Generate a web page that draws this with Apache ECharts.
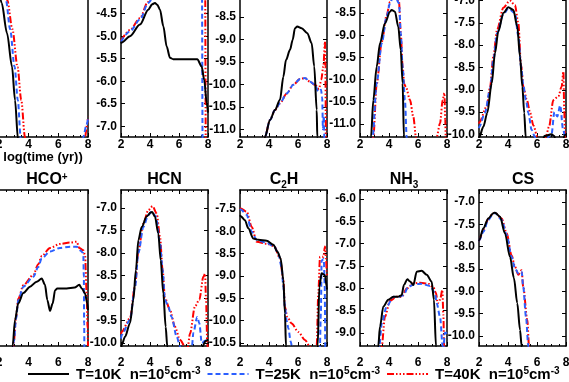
<!DOCTYPE html>
<html>
<head>
<meta charset="utf-8">
<script src="https://cdn.jsdelivr.net/npm/echarts@6/dist/echarts.min.js"></script>
<style>
html, body { margin: 0; padding: 0; background: #fff; }
#chart { width: 569px; height: 382px; }
</style>
</head>
<body>
<div id="chart"></div>
<script>
// log(time (yr)) axis, shared by every panel
var timeTicks = [2, 4, 6, 8];

// top row (species names cropped off), pairs are [log t, log abundance]
var p1T10 = [[2.0,-6.75],[2.18,-7.02],[2.54,-7.69],[2.88,-8.44],[3.08,-9.18],[3.28,-10.05],[3.4,-10.6]];
var p1T25 = [[2.2,-6.46],[2.47,-6.96],[2.75,-7.6],[3.05,-8.44],[3.27,-9.18],[3.46,-10.0],[3.55,-10.6],[7.6,-10.6],[7.68,-10.0],[7.9,-9.73],[8.0,-9.6]];
var p1T40 = [[2.3,-6.46],[2.56,-6.96],[2.9,-7.6],[3.25,-8.44],[3.5,-9.18],[3.75,-10.0],[3.85,-10.6],[7.7,-10.6],[7.8,-10.0],[7.95,-9.7],[8.0,-9.55]];

var p2T10 = [[2.0,-5.16],[2.05,-5.14],[2.62,-5.0],[3.31,-4.74],[3.88,-4.41],[4.15,-4.29],[4.34,-4.26],[4.5,-4.3],[4.69,-4.41],[4.92,-4.78],[5.15,-5.23],[5.38,-5.48],[5.6,-5.51],[7.26,-5.51],[7.56,-5.67],[7.74,-5.97],[7.91,-6.48],[8.0,-6.7]];
var p2T25 = [[2.0,-5.12],[2.62,-4.89],[3.31,-4.63],[3.88,-4.26],[4.11,-4.19],[4.5,-3.9],[5.0,-3.5],[7.4,-3.5],[7.58,-3.6],[7.63,-7.6],[8.0,-7.6]];
var p2T40 = [[2.0,-5.1],[2.62,-4.86],[3.31,-4.6],[3.85,-4.24],[4.1,-4.15],[4.5,-3.85],[5.0,-3.5],[7.5,-3.5],[7.8,-3.6],[7.85,-7.6],[8.0,-7.6]];

var p3T10 = [[3.6,-11.5],[3.72,-11.17],[4.07,-10.79],[4.41,-10.57],[4.76,-10.34],[4.99,-9.83],[5.17,-9.46],[5.45,-9.23],[5.63,-9.01],[5.79,-8.75],[5.95,-8.71],[6.25,-8.75],[6.64,-8.86],[6.94,-9.08],[7.12,-9.6],[7.29,-10.57],[7.33,-11.17],[7.36,-11.5]];
var p3T25 = [[3.6,-11.5],[3.72,-11.17],[4.07,-10.79],[4.41,-10.57],[4.76,-10.42],[5.22,-10.2],[5.68,-10.01],[6.14,-9.88],[6.48,-9.86],[6.83,-9.94],[7.17,-10.01],[7.4,-10.16],[7.59,-10.12],[7.67,-10.3],[7.72,-11.0],[7.78,-10.7],[7.83,-11.5]];
var p3T40 = [[3.6,-11.5],[3.72,-11.17],[4.07,-10.79],[4.41,-10.57],[4.76,-10.42],[5.22,-10.2],[5.68,-10.01],[6.14,-9.88],[6.48,-9.86],[6.83,-9.94],[7.17,-10.01],[7.45,-10.1],[7.6,-9.9],[7.75,-9.6],[7.86,-9.05],[7.89,-9.6],[7.92,-11.5]];

var p4T10 = [[2.7,-11.6],[2.76,-11.29],[2.92,-10.46],[3.15,-9.71],[3.38,-9.18],[3.72,-8.73],[4.07,-8.47],[4.18,-8.43],[4.41,-8.47],[4.64,-8.81],[4.81,-9.33],[4.94,-10.08],[5.03,-11.29],[5.06,-11.6]];
var p4T25 = [[2.8,-11.6],[2.87,-11.29],[3.15,-10.08],[3.5,-9.18],[3.84,-8.58],[4.07,-8.28],[4.35,-8.05],[4.69,-8.28],[4.81,-8.95],[4.94,-9.71],[5.1,-10.46],[5.22,-11.29],[5.26,-11.6]];
var p4T40 = [[2.85,-11.6],[2.92,-11.29],[3.15,-10.1],[3.5,-9.15],[3.84,-8.55],[4.07,-8.25],[4.35,-8.0],[4.69,-8.25],[4.81,-8.95],[4.94,-9.71],[5.05,-10.1],[5.17,-10.17],[5.45,-10.46],[5.68,-10.84],[5.86,-11.29],[5.9,-11.6],[7.25,-11.6],[7.29,-11.29],[7.52,-10.98],[7.7,-10.46],[7.82,-10.3],[7.88,-10.9],[7.92,-11.6]];

var p5T10 = [[2.0,-10.1],[2.02,-10.06],[2.3,-9.83],[2.57,-9.52],[2.88,-8.85],[3.1,-8.18],[3.33,-7.69],[3.68,-7.28],[4.02,-7.15],[4.37,-7.21],[4.64,-7.58],[4.83,-8.26],[4.99,-8.93],[5.12,-9.52],[5.22,-10.06],[5.3,-10.3],[6.3,-10.3],[6.5,-10.04],[7.0,-10.0],[7.2,-10.04],[7.35,-10.3],[7.7,-10.3],[7.9,-10.02],[8.0,-10.0]];
var p5T25 = [[2.0,-9.86],[2.02,-9.83],[2.41,-9.52],[2.76,-9.0],[2.99,-8.33],[3.25,-7.73],[3.68,-7.31],[4.02,-7.18],[4.48,-7.28],[4.71,-7.8],[4.9,-8.48],[5.07,-8.93],[5.24,-9.23],[5.4,-9.52],[5.63,-9.9],[5.86,-10.06],[6.0,-10.3],[6.6,-10.3],[6.8,-10.05],[7.0,-10.0],[7.2,-9.5],[7.4,-9.6],[7.6,-9.35],[7.8,-9.9],[7.95,-10.05],[8.0,-10.05]];
var p5T40 = [[2.0,-9.76],[2.02,-9.73],[2.53,-9.38],[2.76,-8.95],[2.99,-8.25],[3.25,-7.65],[3.68,-7.16],[4.13,-7.0],[4.48,-7.1],[4.71,-7.5],[4.9,-8.45],[5.07,-8.95],[5.3,-9.23],[5.53,-9.52],[5.75,-9.8],[6.03,-10.06],[6.1,-10.3],[6.55,-10.3],[6.6,-10.06],[6.83,-9.83],[7.13,-9.23],[7.47,-9.15],[7.7,-8.93],[7.82,-8.59],[7.88,-9.45],[7.93,-10.06],[7.96,-10.3]];

// bottom row
var hcoT10 = [[2.85,-11.3],[2.92,-11.0],[3.08,-10.42],[3.3,-10.05],[3.64,-9.82],[4.09,-9.68],[4.54,-9.57],[4.88,-9.5],[5.1,-9.64],[5.26,-9.98],[5.44,-10.22],[5.62,-10.05],[5.78,-9.76],[5.93,-9.72],[6.56,-9.72],[7.1,-9.7],[7.41,-9.64],[7.58,-9.72],[7.8,-9.83],[7.95,-10.05],[8.0,-10.2]];
var hcoT25 = [[2.9,-11.3],[3.0,-10.9],[3.15,-10.4],[3.3,-9.98],[3.64,-9.68],[4.31,-9.46],[4.65,-9.24],[4.88,-9.05],[5.44,-8.9],[6.11,-8.82],[6.79,-8.79],[7.24,-8.79],[7.46,-8.87],[7.68,-8.93],[7.72,-9.46],[7.74,-10.5],[7.76,-11.3]];
var hcoT40 = [[2.9,-11.3],[3.0,-10.9],[3.15,-10.35],[3.3,-9.95],[3.64,-9.65],[4.31,-9.42],[4.65,-9.18],[4.88,-9.0],[5.44,-8.82],[6.11,-8.73],[6.79,-8.7],[7.24,-8.68],[7.41,-8.82],[7.68,-8.87],[7.8,-8.98],[7.91,-9.83],[7.97,-10.6],[8.0,-11.0]];

var hcnT10 = [[2.0,-10.2],[2.05,-10.04],[2.28,-9.86],[2.62,-9.56],[2.85,-9.04],[3.03,-8.38],[3.2,-7.71],[3.43,-7.42],[3.77,-7.19],[4.05,-7.1],[4.15,-7.09],[4.34,-7.19],[4.57,-7.56],[4.74,-8.16],[4.92,-8.9],[5.08,-9.64],[5.19,-10.07],[5.25,-10.3],[7.55,-10.3],[7.65,-10.05],[7.85,-9.95],[8.0,-9.92]];
var hcnT25 = [[2.0,-9.9],[2.05,-9.82],[2.62,-9.49],[2.97,-8.75],[3.2,-8.0],[3.54,-7.42],[3.88,-7.16],[4.11,-7.08],[4.41,-7.19],[4.69,-7.78],[4.87,-8.38],[5.03,-9.04],[5.26,-9.19],[5.49,-9.42],[5.84,-9.86],[6.07,-10.07],[6.2,-10.3],[6.8,-10.3],[6.9,-10.05],[6.99,-9.77],[7.26,-9.42],[7.4,-9.56],[7.57,-10.0],[7.8,-9.95],[8.0,-9.93]];
var hcnT40 = [[2.0,-9.8],[2.05,-9.75],[2.62,-9.45],[2.97,-8.72],[3.2,-7.95],[3.54,-7.35],[3.88,-7.05],[4.18,-6.96],[4.46,-7.12],[4.69,-7.64],[4.87,-8.38],[5.03,-9.0],[5.38,-9.27],[5.72,-9.64],[6.07,-9.93],[6.4,-10.07],[6.5,-10.3],[6.6,-10.1],[6.76,-9.79],[7.1,-9.19],[7.4,-9.04],[7.68,-8.53],[7.8,-8.46],[7.86,-9.0],[7.95,-10.0],[8.0,-10.2]];

var c2hT10 = [[2.0,-7.64],[2.05,-7.66],[2.34,-7.75],[2.57,-7.93],[2.92,-8.16],[3.26,-8.19],[3.84,-8.21],[4.3,-8.3],[4.57,-8.45],[4.8,-8.6],[4.99,-9.09],[5.1,-9.83],[5.17,-10.56],[5.2,-10.9],[7.33,-10.9],[7.36,-10.56],[7.47,-9.24],[7.63,-8.94],[7.86,-8.98],[7.98,-9.24],[8.0,-9.3]];
var c2hT25 = [[2.0,-7.5],[2.05,-7.51],[2.46,-7.63],[2.81,-8.01],[3.15,-8.19],[3.84,-8.26],[4.35,-8.33],[4.64,-8.5],[4.87,-8.79],[4.99,-9.24],[5.1,-9.69],[5.22,-10.0],[5.33,-10.16],[5.5,-10.47],[5.64,-10.7],[7.5,-10.7],[7.58,-9.8],[7.63,-8.65],[7.78,-8.62],[7.84,-9.2],[7.88,-10.7]];
var c2hT40 = [[2.0,-7.48],[2.05,-7.49],[2.46,-7.56],[2.81,-7.9],[3.15,-8.23],[3.84,-8.28],[4.35,-8.33],[4.76,-8.6],[4.99,-9.1],[5.1,-9.69],[5.26,-9.91],[5.56,-10.06],[6.02,-10.25],[6.48,-10.43],[6.83,-10.58],[6.9,-10.8],[7.25,-10.8],[7.29,-10.56],[7.4,-9.39],[7.52,-8.57],[7.75,-8.57],[7.86,-8.34],[7.93,-8.6],[7.98,-8.9],[8.0,-9.0]];

var nh3T10 = [[3.2,-9.6],[3.26,-9.3],[3.38,-8.86],[3.61,-8.41],[3.95,-8.26],[4.3,-8.19],[4.64,-8.19],[4.87,-8.16],[5.03,-7.93],[5.26,-7.8],[5.45,-7.85],[5.68,-7.93],[5.91,-7.63],[6.25,-7.61],[6.6,-7.7],[6.94,-7.85],[7.1,-8.26],[7.24,-9.3],[7.28,-9.6]];
var nh3T25 = [[3.28,-9.6],[3.33,-9.3],[3.5,-8.79],[3.84,-8.41],[4.3,-8.19],[4.64,-8.2],[4.99,-8.16],[5.33,-7.97],[5.79,-7.91],[6.25,-7.9],[6.83,-7.95],[7.17,-8.11],[7.29,-8.34],[7.52,-8.64],[7.7,-9.3],[7.75,-9.4],[7.85,-9.0],[7.95,-9.0],[8.0,-9.1]];
var nh3T40 = [[3.45,-9.6],[3.5,-9.3],[3.72,-8.64],[4.07,-8.28],[4.53,-8.19],[4.87,-8.2],[5.22,-8.01],[5.68,-7.89],[6.14,-7.88],[6.71,-7.9],[7.06,-7.98],[7.24,-8.11],[7.36,-8.34],[7.52,-8.26],[7.68,-8.04],[7.75,-8.6],[7.8,-9.3],[7.83,-9.6]];

var csT10 = [[2.0,-7.88],[2.02,-7.85],[2.3,-7.59],[2.64,-7.37],[2.99,-7.25],[3.1,-7.24],[3.45,-7.33],[3.79,-7.7],[4.14,-8.23],[4.41,-8.71],[4.64,-9.27],[4.83,-9.87],[4.94,-10.23],[4.98,-10.5]];
var csT25 = [[2.0,-7.88],[2.02,-7.85],[2.3,-7.67],[2.64,-7.4],[2.99,-7.26],[3.1,-7.24],[3.56,-7.4],[3.91,-7.74],[4.25,-8.23],[4.48,-8.49],[4.71,-8.6],[4.94,-8.56],[5.05,-8.9],[5.24,-9.57],[5.4,-10.23],[5.45,-10.5]];
var csT40 = [[2.0,-7.88],[2.02,-7.85],[2.3,-7.62],[2.64,-7.38],[2.99,-7.25],[3.1,-7.24],[3.56,-7.37],[3.91,-7.7],[4.25,-8.2],[4.48,-8.45],[4.71,-8.63],[4.94,-8.53],[5.05,-8.9],[5.33,-9.64],[5.45,-10.23],[5.5,-10.5]];

// y range of each panel (bottom edge, top edge) and its tick labels
var yMin = [-10.0, -7.24, -11.17, -11.29, -10.06, -11.0, -10.067, -10.565, -9.296, -10.229];
var yMax = [-6.53, -3.773, -7.70, -7.78, -6.56, -7.53, -6.6, -7.075, -5.80, -6.731];
var ticksP2 = [-7.0, -6.5, -6.0, -5.5, -5.0, -4.5];
var ticksP3 = [-11.0, -10.5, -10.0, -9.5, -9.0, -8.5];
var ticksP5 = [-10.0, -9.5, -9.0, -8.5, -8.0, -7.5, -7.0];
var ticksC2H = [-10.5, -10.0, -9.5, -9.0, -8.5, -8.0, -7.5];
var ticksNH3 = [-9.0, -8.5, -8.0, -7.5, -7.0, -6.5, -6.0];

var names = ['T=10K', 'T=25K', 'T=40K'];
var panelData = [
  [p1T10, p1T25, p1T40], [p2T10, p2T25, p2T40], [p3T10, p3T25, p3T40],
  [p4T10, p4T25, p4T40], [p5T10, p5T25, p5T40],
  [hcoT10, hcoT25, hcoT40], [hcnT10, hcnT25, hcnT40], [c2hT10, c2hT25, c2hT40],
  [nh3T10, nh3T25, nh3T40], [csT10, csT25, csT40]
];
var panelTicks = [[], ticksP2, ticksP3, ticksP3, ticksP5, [], ticksP5, ticksC2H, ticksNH3, ticksP5];

var FONT = "'Liberation Sans', Arial, sans-serif";
var lefts = [-1, 121, 240, 360, 479];
var widths = [89, 87, 87, 87, 87];
var colors = ['#000000', '#2b5fff', '#ff0000'];
var dashes = ['solid', [5, 3], [7, 2, 1.5, 2, 1.5, 2, 1.5, 2]];

var grids = [], xAxes = [], yAxes = [], series = [];
for (var i = 0; i < 10; i++) {
  var row = i < 5 ? 0 : 1, col = i % 5;
  var edge = col > 0;
  grids.push({left: lefts[col], top: row ? 190 : -19, width: widths[col], height: 156,
    containLabel: false, outerBoundsMode: 'none'});
  var xBase = {
    gridIndex: i, type: 'value', min: 2, max: 8, interval: 2,
    axisLine: {onZero: false, lineStyle: {color: '#000', width: 1.5}},
    axisTick: {inside: true, length: 4, lineStyle: {color: '#000'}},
    minorTick: {show: true, splitNumber: 4, length: 2, lineStyle: {color: '#000'}},
    splitLine: {show: false}
  };
  xAxes.push(Object.assign({}, xBase, {position: 'bottom',
    axisLabel: {margin: row ? 11 : 2, fontSize: 12, fontWeight: 'bold', color: '#000', fontFamily: FONT,
      showMinLabel: true, showMaxLabel: true}}));
  xAxes.push(Object.assign({}, xBase, {position: 'top', axisLabel: {show: false}}));
  var tk = panelTicks[i];
  var yBase = {
    gridIndex: i, type: 'value', min: yMin[i], max: yMax[i],
    axisLine: {show: edge, onZero: false, lineStyle: {color: '#000', width: 1.5}},
    splitLine: {show: false}
  };
  yAxes.push(Object.assign({}, yBase, {position: 'left',
    axisTick: {show: edge, inside: true, length: 4, customValues: tk, lineStyle: {color: '#000'}},
    axisLabel: {show: edge, margin: 4, customValues: tk, fontSize: 12, fontWeight: 'bold', color: '#000',
      fontFamily: FONT, formatter: function (v) { return v.toFixed(1); }}}));
  yAxes.push(Object.assign({}, yBase, {position: 'right', axisLine: {show: true, onZero: false, lineStyle: {color: '#000', width: 1.5}},
    axisTick: {inside: true, length: 4, customValues: tk, lineStyle: {color: '#000'}},
    axisLabel: {show: false}}));
  for (var s = 0; s < 3; s++) {
    series.push({
      name: names[s], type: 'line', xAxisIndex: 2 * i, yAxisIndex: 2 * i,
      data: panelData[i][s], showSymbol: false, symbol: 'none', clip: true,
      smooth: 0.3, smoothMonotone: 'x', z: 3 - s,
      lineStyle: {color: colors[s], width: 2, type: dashes[s]},
      itemStyle: {color: colors[s]}
    });
  }
}

var titleStyle = {
  fontFamily: FONT, fontWeight: 'bold', color: '#000',
  rich: {
    m: {fontSize: 16, fontWeight: 'bold', fontFamily: FONT, lineHeight: 18, verticalAlign: 'top'},
    sup: {fontSize: 10, fontWeight: 'bold', fontFamily: FONT, lineHeight: 10, verticalAlign: 'top'},
    sub: {fontSize: 10, fontWeight: 'bold', fontFamily: FONT, lineHeight: 10, verticalAlign: 'bottom', padding: [10, 0, 0, 0]}
  }
};
function molTitle(text, cx) {
  return {text: text, left: cx, top: 172, textAlign: 'center', padding: 0, textStyle: titleStyle};
}

var option = {
  animation: false,
  backgroundColor: '#fff',
  title: [
    {text: 'log(time (yr))', left: 43, top: 151, textAlign: 'center', padding: 0,
      textStyle: {fontSize: 13, fontWeight: 'bold', color: '#000', fontFamily: FONT}},
    molTitle('{m|HCO}{sup|+}', 47),
    molTitle('{m|HCN}', 164.5),
    molTitle('{m|C}{sub|2}{m|H}', 284),
    molTitle('{m|NH}{sub|3}', 404),
    molTitle('{m|CS}', 523)
  ],
  legend: {
    data: names, left: 27, top: 366, itemWidth: 41, itemHeight: 14, itemGap: 6, padding: 0,
    itemStyle: {opacity: 0},
    formatter: function (n) { return '{t|' + n + '  n=10}{s|5}{t|cm}{s|-3}'; },
    textStyle: {
      color: '#000', fontFamily: FONT, fontWeight: 'bold', fontSize: 15, padding: [0, 0, 0, 2],
      rich: {
        t: {fontSize: 15, fontWeight: 'bold', fontFamily: FONT, color: '#000', lineHeight: 16, verticalAlign: 'bottom'},
        s: {fontSize: 10, fontWeight: 'bold', fontFamily: FONT, color: '#000', lineHeight: 10, verticalAlign: 'top'}
      }
    }
  },
  grid: grids,
  xAxis: xAxes,
  yAxis: yAxes,
  series: series
};

var myChart = echarts.init(document.getElementById('chart'), null, {renderer: 'canvas'});
myChart.setOption(option);
</script>
</body>
</html>
